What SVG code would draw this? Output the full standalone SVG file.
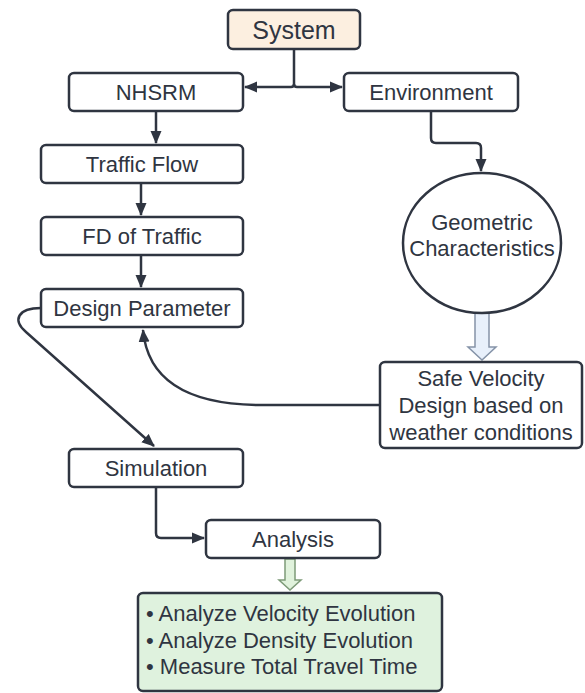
<svg xmlns="http://www.w3.org/2000/svg" width="585" height="693" viewBox="0 0 585 693">
<defs>
<style>
.box{fill:#ffffff;stroke:#2f3541;stroke-width:2.5}
.t{font-family:"Liberation Sans",Arial,sans-serif;font-size:22px;fill:#2f3541;text-anchor:middle;dominant-baseline:central}
.tl{font-family:"Liberation Sans",Arial,sans-serif;font-size:22px;fill:#2f3541;dominant-baseline:central}
.c{fill:none;stroke:#2f3541;stroke-width:2.5}
</style>
<marker id="ah" markerWidth="14" markerHeight="12" refX="12" refY="6" orient="auto" markerUnits="userSpaceOnUse">
<path d="M0,0.5 L13,6 L0,11.5 Z" fill="#2f3541"/>
</marker>
</defs>
<rect width="585" height="693" fill="#ffffff"/>
<g id="connectors">
<path class="c" d="M294,49 V84 Q294,87 291,87 H245" marker-end="url(#ah)"/>
<path class="c" d="M294,84 Q294,87 297,87 H342" marker-end="url(#ah)"/>
<path class="c" d="M431,111 V138 Q431,143 436,143 H476 Q481,143 481,148 V171" marker-end="url(#ah)"/>
<path class="c" d="M156,111 V143" marker-end="url(#ah)"/>
<path class="c" d="M141,183 V215" marker-end="url(#ah)"/>
<path class="c" d="M141,255 V287" marker-end="url(#ah)"/>
<path class="c" d="M41,308 C18,308 12,320 26,332 L154,446" marker-end="url(#ah)"/>
<path class="c" d="M380,405 H262 C195,405 148,385 143,330" marker-end="url(#ah)"/>
<path class="c" d="M156,487 V533 Q156,538 161,538 H204" marker-end="url(#ah)"/>
<path d="M475,313 H489 V347 H496 L482,360 L468,347 H475 Z" fill="#e8f0fb" stroke="#8593a8" stroke-width="1.5"/>
<path d="M285,559 H295 V580 H301 L290,590 L279,580 H285 Z" fill="#e0f2dc" stroke="#7d9a78" stroke-width="1.5"/>
</g>
<g id="system"><rect class="box" x="228" y="10" width="132" height="39" rx="5" style="fill:#fcefe0"/><text class="t" x="294" y="29.5" style="font-size:25px">System</text></g>
<g id="nhsrm"><rect class="box" x="69" y="73" width="174" height="38" rx="5"/><text class="t" x="156" y="92">NHSRM</text></g>
<g id="environment"><rect class="box" x="344" y="73" width="174" height="38" rx="5"/><text class="t" x="431" y="92">Environment</text></g>
<g id="traffic-flow"><rect class="box" x="41" y="145" width="202" height="38" rx="5"/><text class="t" x="142" y="164">Traffic Flow</text></g>
<g id="fd-traffic"><rect class="box" x="41" y="217" width="202" height="38" rx="5"/><text class="t" x="142" y="236">FD of Traffic</text></g>
<g id="design-parameter"><rect class="box" x="41" y="289" width="202" height="38" rx="5"/><text class="t" x="142" y="308">Design Parameter</text></g>
<g id="geometric"><ellipse class="box" cx="482" cy="243" rx="79" ry="70"/><text class="t" x="482" y="222">Geometric</text><text class="t" x="482" y="248">Characteristics</text></g>
<g id="safe-velocity"><rect class="box" x="380" y="362" width="202" height="86" rx="5"/><text class="t" x="481" y="378">Safe Velocity</text><text class="t" x="481" y="405">Design based on</text><text class="t" x="481" y="432">weather conditions</text></g>
<g id="simulation"><rect class="box" x="69" y="449" width="174" height="38" rx="5"/><text class="t" x="156" y="468">Simulation</text></g>
<g id="analysis"><rect class="box" x="206" y="520" width="174" height="38" rx="5"/><text class="t" x="293" y="539">Analysis</text></g>
<g id="results"><rect class="box" x="138" y="593" width="304" height="98" rx="5" style="fill:#dff2de"/>
<text class="tl" x="146" y="613">• Analyze Velocity Evolution</text>
<text class="tl" x="146" y="640">• Analyze Density Evolution</text>
<text class="tl" x="146" y="666">• Measure Total Travel Time</text></g>
</svg>
